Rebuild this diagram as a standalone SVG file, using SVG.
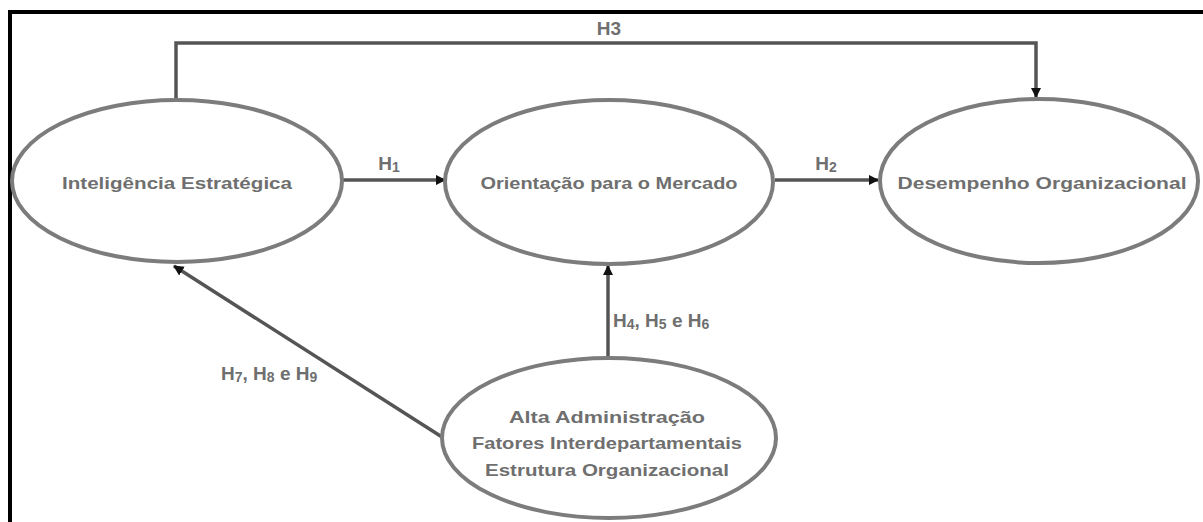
<svg xmlns="http://www.w3.org/2000/svg" width="1203" height="522" viewBox="0 0 1203 522">
<style>
.node{fill:#ffffff;stroke:#7c7c7c;stroke-width:4}
.txt{font-family:"Liberation Sans",Arial,sans-serif;font-weight:bold;font-size:17px;fill:#6f6f6f;text-anchor:middle}
.lbl{font-family:"Liberation Sans",Arial,sans-serif;font-weight:bold;font-size:19px;fill:#6f6f6f}
.conn{fill:none;stroke:#555555;stroke-width:3.5}
.sub{font-size:14px}
</style>
<defs>
<marker id="arr" viewBox="0 0 10 10" refX="9" refY="5" markerWidth="3" markerHeight="3" orient="auto" markerUnits="strokeWidth">
<path d="M0,0 L10,5 L0,10 z" fill="#111111"/>
</marker>
</defs>
<rect x="0" y="0" width="1203" height="522" fill="#ffffff"/>
<g id="frame">
<line x1="8" y1="12" x2="1203" y2="12" stroke="#000000" stroke-width="4"/>
<line x1="10" y1="10" x2="10" y2="522" stroke="#000000" stroke-width="4"/>
</g>
<g id="connectors">
<path class="conn" d="M176,100 V43 H1036 V97" marker-end="url(#arr)"/>
<path class="conn" d="M342,180 H445" marker-end="url(#arr)"/>
<path class="conn" d="M775,180 H878" marker-end="url(#arr)"/>
<path class="conn" d="M608,358 V266" marker-end="url(#arr)"/>
<path class="conn" d="M442,437 L174,266" marker-end="url(#arr)"/>
<text class="lbl" x="609" y="35" text-anchor="middle">H3</text>
<text class="lbl" x="389" y="170" text-anchor="middle">H<tspan class="sub" dy="2">1</tspan></text>
<text class="lbl" x="826" y="170" text-anchor="middle">H<tspan class="sub" dy="2">2</tspan></text>
<text class="lbl" x="613" y="327">H<tspan class="sub" dy="2">4</tspan><tspan dy="-2">, H</tspan><tspan class="sub" dy="2">5</tspan><tspan dy="-2"> e H</tspan><tspan class="sub" dy="2">6</tspan></text>
<text class="lbl" x="221" y="380">H<tspan class="sub" dy="2">7</tspan><tspan dy="-2">, H</tspan><tspan class="sub" dy="2">8</tspan><tspan dy="-2"> e H</tspan><tspan class="sub" dy="2">9</tspan></text>
</g>
<g id="node-inteligencia">
<ellipse class="node" cx="177" cy="181" rx="165" ry="81"/>
<text class="txt" x="177" y="189" textLength="230" lengthAdjust="spacingAndGlyphs">Inteligência Estratégica</text>
</g>
<g id="node-orientacao">
<ellipse class="node" cx="609" cy="182" rx="164" ry="82"/>
<text class="txt" x="609" y="189" textLength="257" lengthAdjust="spacingAndGlyphs">Orientação para o Mercado</text>
</g>
<g id="node-desempenho">
<ellipse class="node" cx="1039" cy="181" rx="159" ry="82"/>
<text class="txt" x="1042" y="189" textLength="289" lengthAdjust="spacingAndGlyphs">Desempenho Organizacional</text>
</g>
<g id="node-fatores">
<ellipse class="node" cx="609" cy="438" rx="167" ry="80"/>
<text class="txt" x="607" y="423" textLength="196" lengthAdjust="spacingAndGlyphs">Alta Administração</text>
<text class="txt" x="607" y="449" textLength="270" lengthAdjust="spacingAndGlyphs">Fatores Interdepartamentais</text>
<text class="txt" x="607" y="476" textLength="244" lengthAdjust="spacingAndGlyphs">Estrutura Organizacional</text>
</g>
</svg>
